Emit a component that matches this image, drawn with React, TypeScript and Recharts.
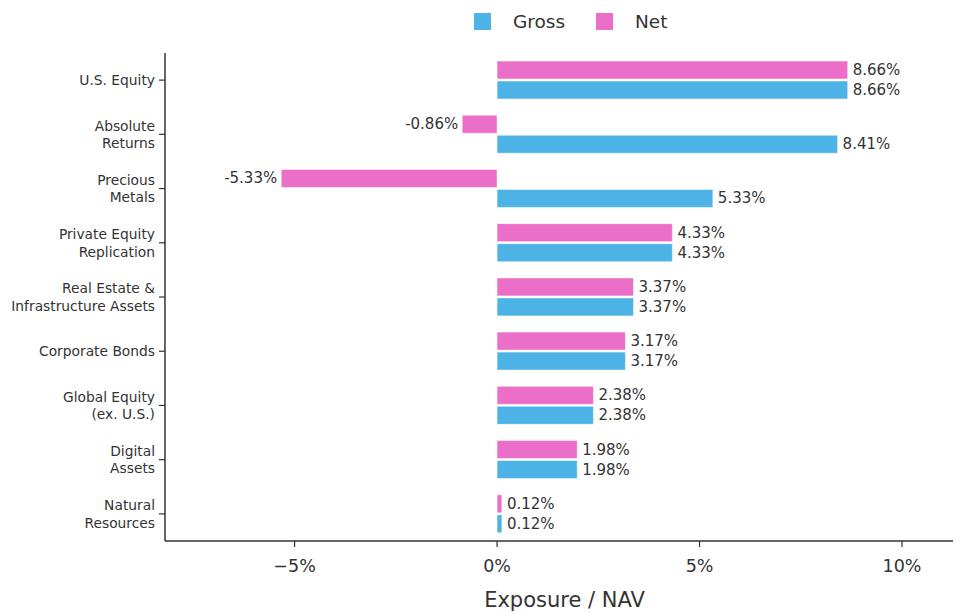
import React from "react";
import { BarChart, Bar, XAxis, YAxis, LabelList } from "recharts";

const categories = [
  "U.S. Equity",
  "Absolute\nReturns",
  "Precious\nMetals",
  "Private Equity\nReplication",
  "Real Estate &\nInfrastructure Assets",
  "Corporate Bonds",
  "Global Equity\n(ex. U.S.)",
  "Digital\nAssets",
  "Natural\nResources",
];
const grossValues = [8.66, 8.41, 5.33, 4.33, 3.37, 3.17, 2.38, 1.98, 0.12];
const netValues = [8.66, -0.86, -5.33, 4.33, 3.37, 3.17, 2.38, 1.98, 0.12];
const xTicks = [-5, 0, 5, 10];

const data = categories.map((name, i) => ({ name, gross: grossValues[i], net: netValues[i] }));

const BLUE = "#4DB3E6";
const PINK = "#EB6EC8";
const TEXT = "#333333";
const FONT = "'DejaVu Sans', sans-serif";

const YTick = (props: any) => {
  const { x, y, payload } = props;
  const lines = String(payload.value).split("\n");
  const lh = 17.5;
  const start = -((lines.length - 1) * lh) / 2;
  return (
    <text x={165 - 10} y={y} textAnchor="end" fontFamily={FONT} fontSize={13.8} fill={TEXT}>
      {lines.map((l, i) => (
        <tspan key={i} x={165 - 10} y={y + start + i * lh} dominantBaseline="central">
          {l}
        </tspan>
      ))}
    </text>
  );
};

const XTick = (props: any) => {
  const { x, payload } = props;
  const v = payload.value;
  const s = (v < 0 ? "\u2212" + Math.abs(v) : String(v)) + "%";
  return (
    <text x={x} y={566} textAnchor="middle" dominantBaseline="central" fontFamily={FONT} fontSize={17.5} fill={TEXT}>
      {s}
    </text>
  );
};

const ValueLabel = (props: any) => {
  const { x, y, width, height, value } = props;
  const end = x + width;
  const neg = value < 0;
  return (
    <text
      x={neg ? end - 4 : end + 5}
      y={y + height / 2}
      textAnchor={neg ? "end" : "start"}
      dominantBaseline="central"
      fontFamily={FONT}
      fontSize={15}
      fill={TEXT}
    >
      {value.toFixed(2) + "%"}
    </text>
  );
};

const AxisTitle = () => (
  <text x={564.5} y={600} textAnchor="middle" dominantBaseline="central" fontFamily={FONT} fontSize={21} fill={TEXT}>
    Exposure / NAV
  </text>
);

export default function App() {
  return (
    <div style={{ position: "absolute", left: 0, top: 0, width: 954, height: 612, background: "#fff" }}>
      <div
        style={{
          position: "absolute",
          top: 0,
          left: 0,
          width: 954,
          height: 44,
          fontFamily: FONT,
          fontSize: 18.5,
          color: TEXT,
        }}
      >
        <div style={{ position: "absolute", left: 474, top: 13, width: 17, height: 17, background: BLUE }} />
        <div style={{ position: "absolute", left: 513, top: 22, transform: "translateY(-50%)", lineHeight: "20px" }}>Gross</div>
        <div style={{ position: "absolute", left: 596, top: 13, width: 17, height: 17, background: PINK }} />
        <div style={{ position: "absolute", left: 635, top: 22, transform: "translateY(-50%)", lineHeight: "20px" }}>Net</div>
      </div>
      <BarChart
        width={954}
        height={612}
        data={data}
        layout="vertical"
        margin={{ top: 53, right: 1, bottom: 0, left: 0 }}
        barSize={18}
        barGap={2}
      >
        <XAxis
          type="number"
          domain={[-8.2, 11.26]}
          ticks={xTicks}
          allowDataOverflow
          height={71}
          axisLine={{ stroke: TEXT, strokeWidth: 1.5 }}
          tickLine={{ stroke: TEXT, strokeWidth: 1.2 }}
          tickSize={6}
          tick={<XTick />}
          label={<AxisTitle />}
        />
        <YAxis
          type="category"
          dataKey="name"
          width={165}
          axisLine={{ stroke: TEXT, strokeWidth: 1.5 }}
          tickLine={{ stroke: TEXT, strokeWidth: 1.2 }}
          tickSize={6}
          tick={<YTick />}
          interval={0}
        />
        <Bar dataKey="net" fill={PINK} stroke="#ffffff" strokeOpacity={0.5} strokeWidth={1} isAnimationActive={false}>
          <LabelList dataKey="net" content={<ValueLabel />} />
        </Bar>
        <Bar dataKey="gross" fill={BLUE} stroke="#ffffff" strokeOpacity={0.5} strokeWidth={1} isAnimationActive={false}>
          <LabelList dataKey="gross" content={<ValueLabel />} />
        </Bar>
      </BarChart>
    </div>
  );
}
